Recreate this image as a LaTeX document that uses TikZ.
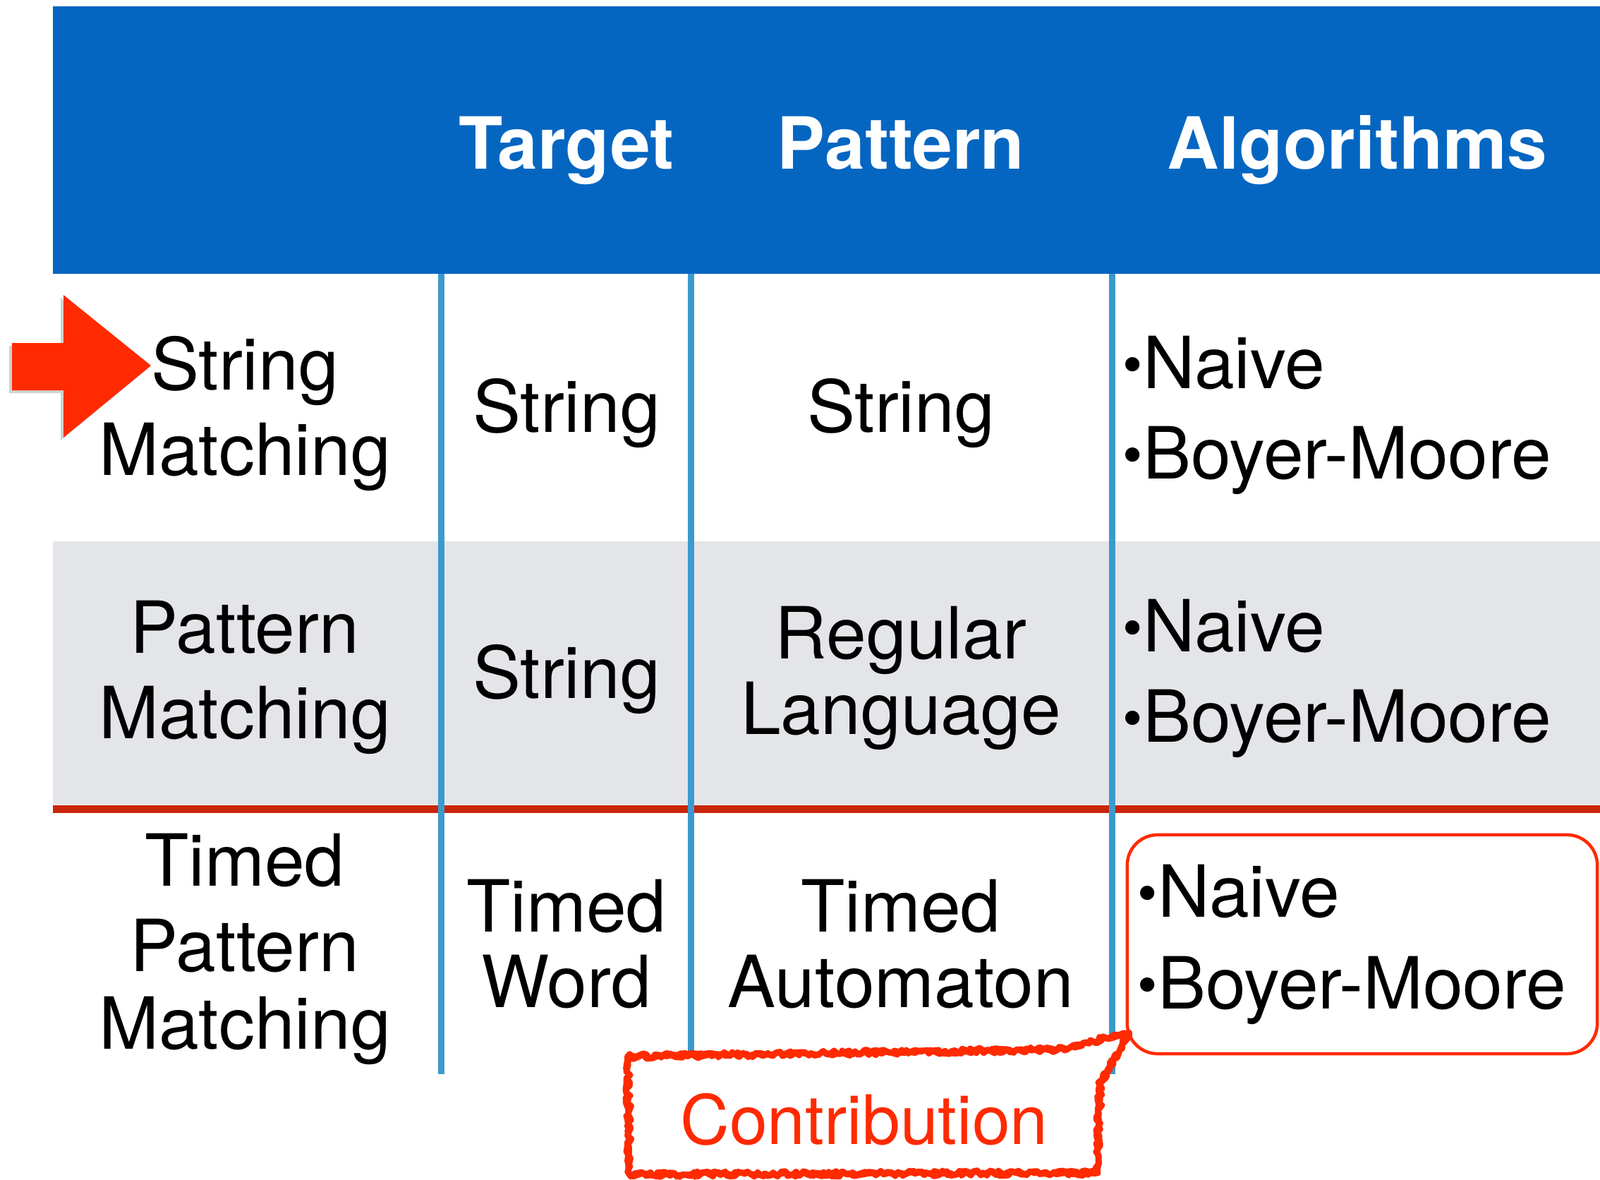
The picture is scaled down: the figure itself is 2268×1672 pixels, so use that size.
\documentclass[tikz,border=0pt]{standalone}
\usepackage{fontspec}
\setmainfont{TeX Gyre Heros}
\usetikzlibrary{calc,decorations.pathmorphing}

\definecolor{hdrblue}{RGB}{5,102,193}
\definecolor{rowgrey}{RGB}{228,229,233}
\definecolor{sepred}{RGB}{200,38,10}
\definecolor{lineblue}{RGB}{59,154,205}
\definecolor{hired}{RGB}{255,42,0}

\newcommand{\algbullet}{\raisebox{0.05em}{\fontsize{23}{23}\selectfont\textbullet}}

\tikzset{
  cell/.style={align=center, inner sep=0pt, font=\fontsize{29}{34.4}\selectfont},
  algo/.style={align=left, anchor=west, inner sep=0pt, font=\fontsize{29}{34.4}\selectfont},
  hdr/.style={inner sep=0pt, anchor=base, text=white, font=\fontsize{29}{34.4}\selectfont\bfseries},
  colline/.style={draw=lineblue, line width=0.09cm},
  algobox/.style={draw=hired, line width=0.045cm, rounded corners=0.43cm, align=left, text width=6.36cm,
    inner sep=0pt, minimum width=6.66cm, minimum height=3.1cm, font=\fontsize{29}{34.4}\selectfont},
  contrib/.style={draw=hired, line width=0.085cm, line join=round,
    decorate, decoration={random steps, segment length=1.5pt, amplitude=1.1pt}},
}

\begin{document}
\begin{tikzpicture}[x=0.01cm, y=-0.01cm]
    \useasboundingbox (0,0) rectangle (2268,1672);
    % Cabecera y filas
    \fill[hdrblue] (75,9) rectangle (2268,388);
    \fill[rowgrey] (75,767) rectangle (2268,1140);
    \draw[sepred, line width=0.11cm] (75,1146) -- (2268,1146);
    % Separadores de columnas
    \draw[colline] (625,388) -- (625,1522);
    \draw[colline] (979,388) -- (979,1522);
    \draw[colline] (1576,388) -- (1576,1522);
    % Titulos
    \node[hdr] (hTarget) at (803,239) {Target};
    \node[hdr] (hPattern) at (1277,239) {Pattern};
    \node[hdr] (hAlgo) at (1924,239) {Algorithms};
    % Fila 1
    \node[cell] (smName) at (347,586) {String\\Matching};
    \node[cell] (smTarget) at (803,586) {String};
    \node[cell] (smPattern) at (1277,586) {String};
    \node[algo] (smAlgo) at (1591,588) {\algbullet Naive\\[0.07cm]\algbullet Boyer-Moore};
    % Fila 2
    \node[cell] (pmName) at (347,960) {Pattern\\Matching};
    \node[cell] (pmTarget) at (803,963) {String};
    \node[cell] (pmPattern) at (1277,961) {Regular\\[-0.14cm]Language};
    \node[algo] (pmAlgo) at (1591,961) {\algbullet Naive\\[0.07cm]\algbullet Boyer-Moore};
    % Fila 3
    \node[cell] (tpmName) at (347,1345) {Timed\\Pattern\\[-0.11cm]Matching};
    \node[cell] (tpmTarget) at (803,1338) {Timed\\[-0.14cm]Word};
    \node[cell] (tpmPattern) at (1277,1338) {Timed\\[-0.14cm]Automaton};
    \node[algobox] (tpmAlgo) at (1931,1338) {\algbullet Naive\\[0.09cm]\algbullet Boyer-Moore};
    % Flecha roja
    \fill[black, opacity=0.18] (13,490) -- (86,490) -- (86,422) -- (210,522) -- (86,624) -- (86,557) -- (13,557) -- cycle;
    \fill[hired] (17,486) -- (90,486) -- (90,418) -- (214,518) -- (90,620) -- (90,553) -- (17,553) -- cycle;
    % Contribucion
    \coordinate (tip) at ($(tpmAlgo.south west)+(5,-32)$);
    \fill[white] (890,1497) -- (1500,1487) -- (tip) -- (1559,1536) -- (1556,1662) -- (892,1664) -- cycle;
    \draw[contrib] (890,1497) -- (1500,1487) -- (tip) -- (1559,1536) -- (1556,1662) -- (892,1664) -- cycle;
    \draw[contrib] (890,1497) -- (1500,1487) -- (tip) -- (1559,1536) -- (1556,1662) -- (892,1664) -- cycle;
    \node[cell, text=hired, font=\fontsize{27.5}{33}\selectfont] (contrib) at (1225,1586) {Contribution};
\end{tikzpicture}
\end{document}
